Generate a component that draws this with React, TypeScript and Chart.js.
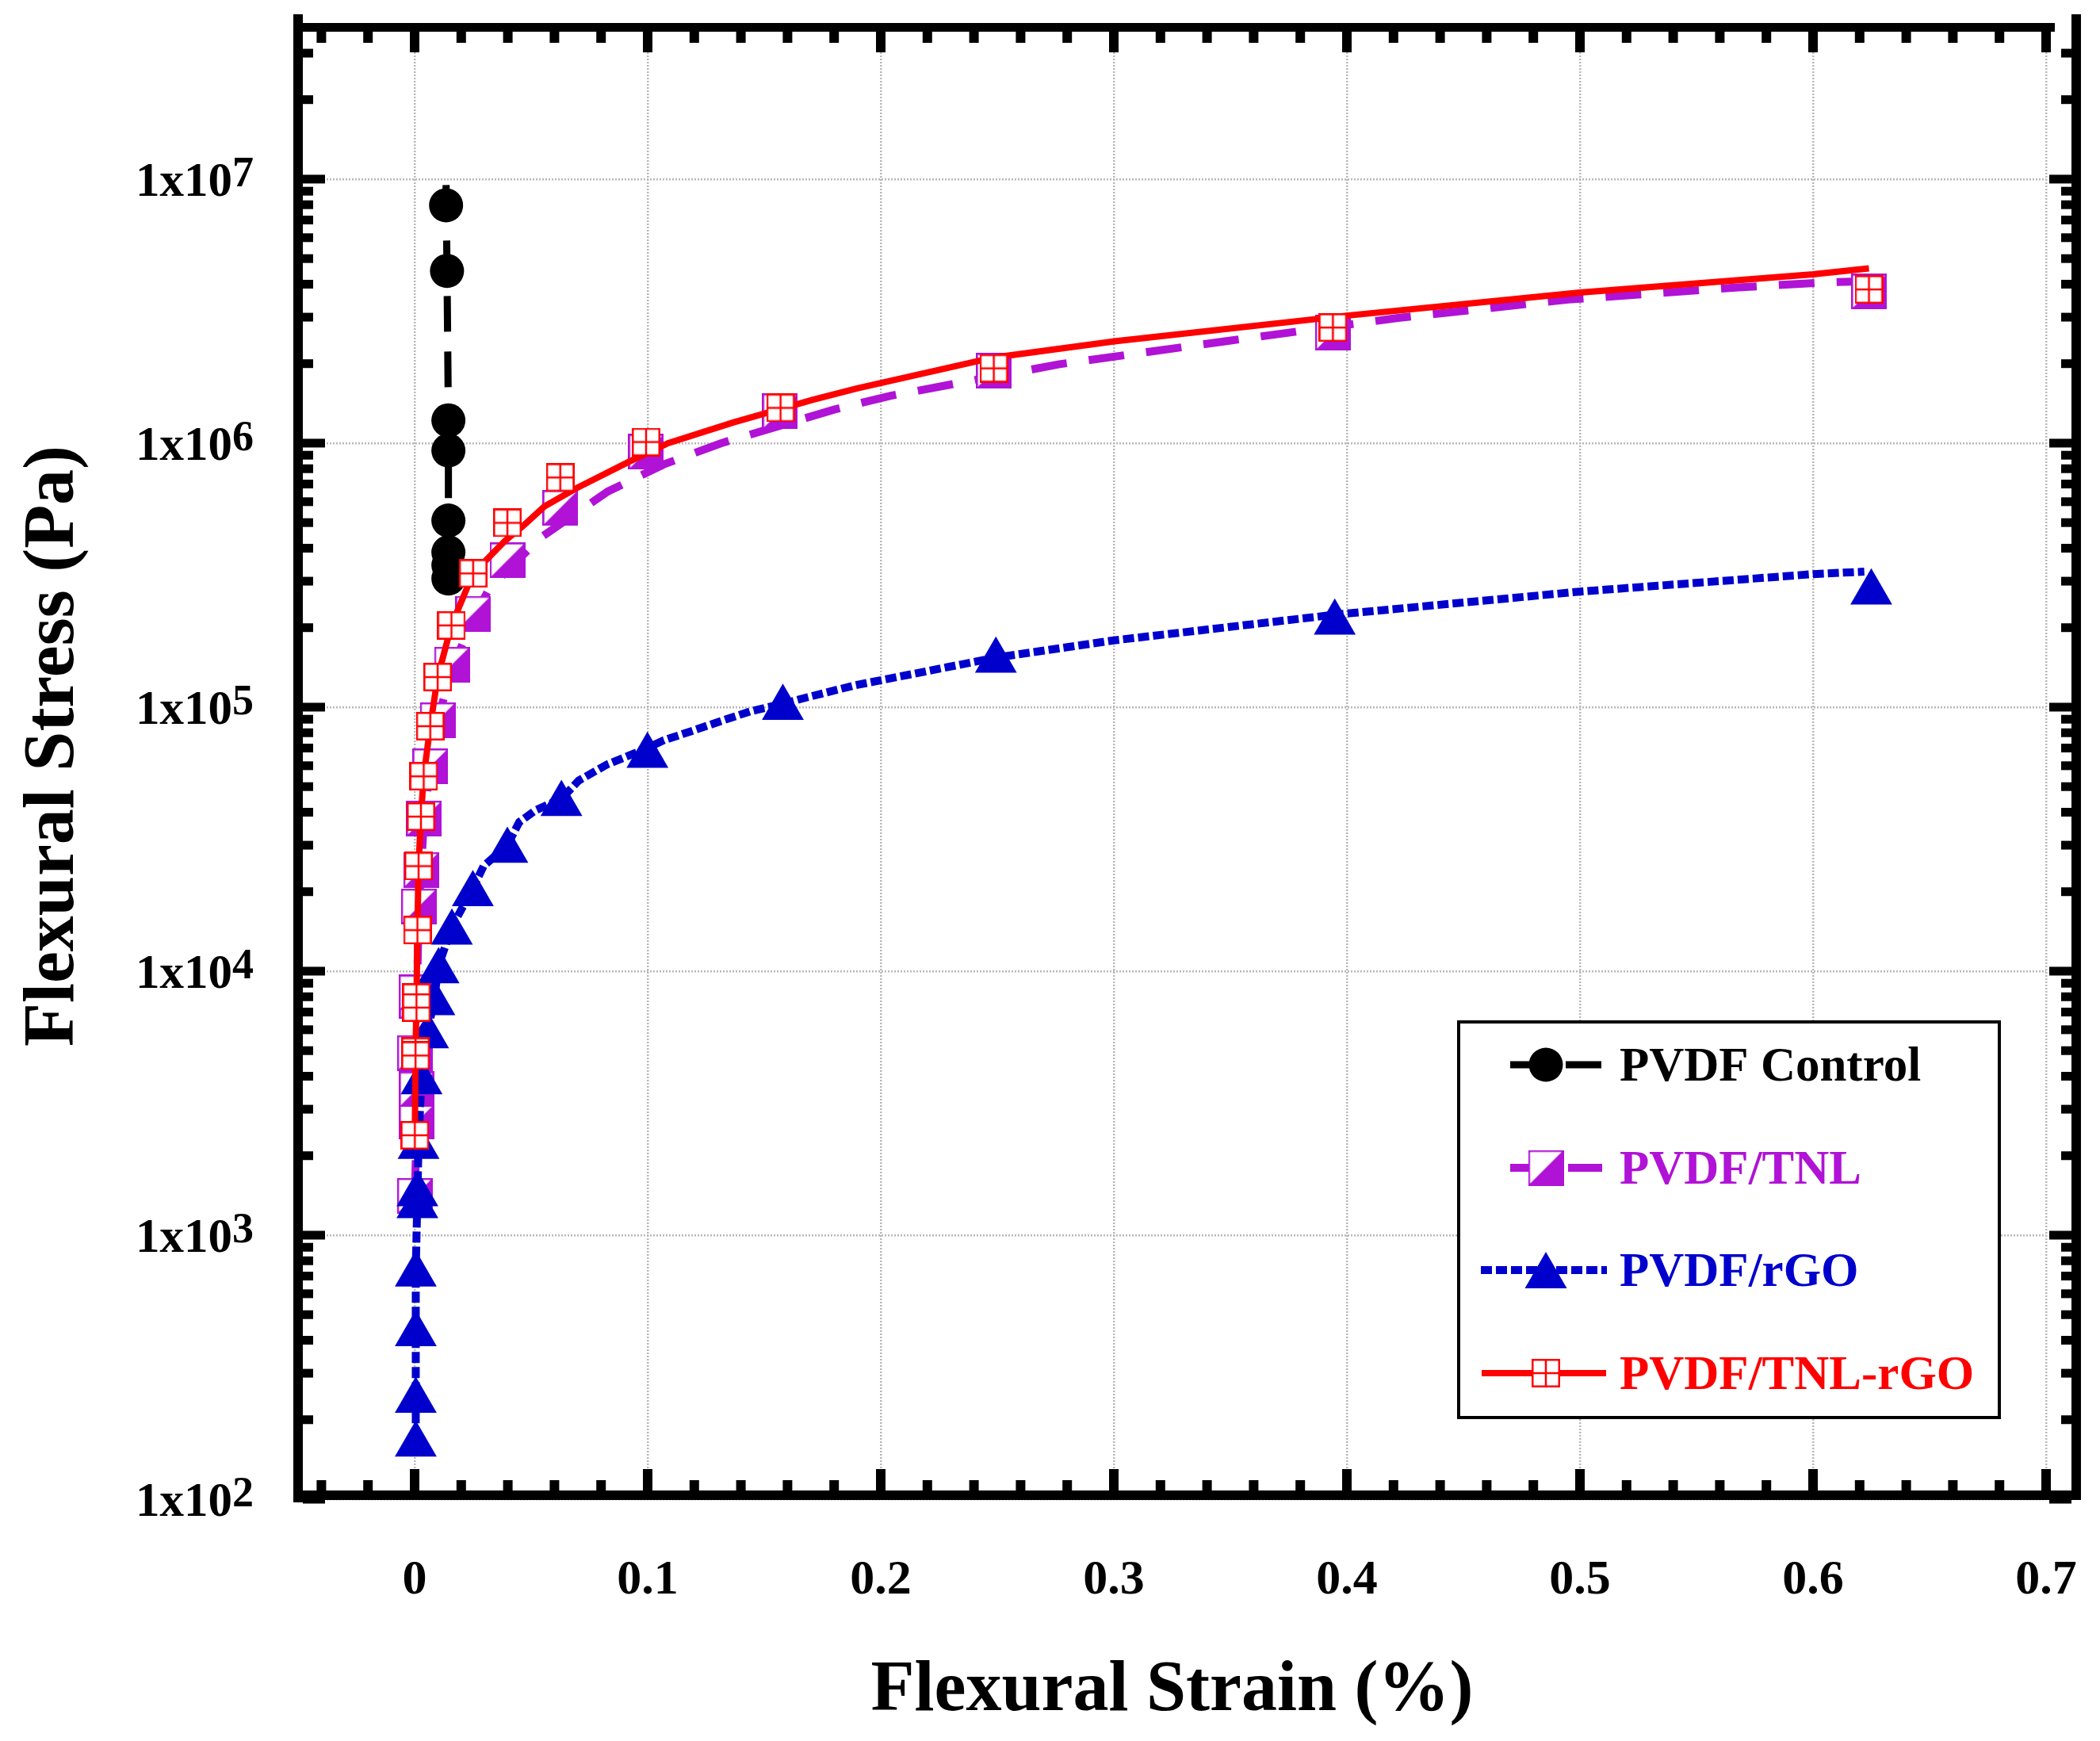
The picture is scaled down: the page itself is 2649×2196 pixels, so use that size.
import { useEffect, useRef } from "react";
import { Chart, registerables } from "chart.js";

Chart.register(...registerables);

const FONT = "'Liberation Serif', 'Times New Roman', Times, serif";

const BLACK = "#000000";
const PURPLE = "#B012D6";
const BLUE = "#0000CD";
const RED = "#FF0000";

// axes
const X_MIN = -0.05;
const X_MAX = 0.7;
const Y_MIN = 1e2;
const Y_MAX = 3.77e7;
const xMajor = [0, 0.1, 0.2, 0.3, 0.4, 0.5, 0.6, 0.7];
const xLabels = ["0", "0.1", "0.2", "0.3", "0.4", "0.5", "0.6", "0.7"];
const yMajor = [1e2, 1e3, 1e4, 1e5, 1e6, 1e7];
const yExponents = ["2", "3", "4", "5", "6", "7"];
const xTitle = "Flexural Strain (%)";
const yTitle = "Flexural Stress (Pa)";

const seriesNames = ["PVDF Control", "PVDF/TNL", "PVDF/rGO", "PVDF/TNL-rGO"];

// PVDF Control
const controlMarkX = [0.0135, 0.0139, 0.0145, 0.0145, 0.0145, 0.0145, 0.0145, 0.0145];
const controlMarkY = [7.96e6, 4.49e6, 1.22e6, 9.38e5, 5.09e5, 3.86e5, 3.45e5, 3.07e5];
const controlLineX = [0.0135, 0.0139, 0.0145, 0.0145];
const controlLineY = [9.5e6, 4.49e6, 1.22e6, 3.0e5];

// PVDF/TNL
const tnlMarkX = [0.0001, 0.0009, 0.0009, 0.0001, 0.001, 0.0008, 0.0018, 0.0028, 0.004, 0.0067, 0.0099, 0.016, 0.0251, 0.0398, 0.0625, 0.0993, 0.1568, 0.2485, 0.394, 0.624];
const tnlMarkY = [1.41e3, 2.69e3, 3.57e3, 4.9e3, 7.7e3, 8.3e3, 1.76e4, 2.42e4, 3.79e4, 5.97e4, 8.93e4, 1.45e5, 2.26e5, 3.6e5, 5.68e5, 9.27e5, 1.32e6, 1.88e6, 2.62e6, 3.75e6];
const tnlLineX = [0.0001, 0.0009, 0.0009, 0.0005, 0.001, 0.0018, 0.0028, 0.004, 0.0067, 0.0099, 0.016, 0.0251, 0.032, 0.054, 0.0829, 0.1068, 0.1316, 0.18, 0.204, 0.2767, 0.349, 0.422, 0.495, 0.568, 0.607, 0.62];
const tnlLineY = [1.41e3, 2.69e3, 3.57e3, 4.9e3, 8.0e3, 1.76e4, 2.42e4, 3.79e4, 5.97e4, 8.9e4, 1.4e5, 2.15e5, 2.81e5, 4.38e5, 6.56e5, 8.3e5, 1.0e6, 1.34e6, 1.51e6, 1.99e6, 2.44e6, 2.98e6, 3.5e6, 3.89e6, 4.07e6, 4.1e6];

// PVDF/rGO
const rgoMarkX = [0.0005, 0.0005, 0.0005, 0.0005, 0.0012, 0.0012, 0.0017, 0.003, 0.0058, 0.0085, 0.0103, 0.016, 0.025, 0.0398, 0.063, 0.0999, 0.158, 0.2494, 0.3948, 0.625];
const rgoMarkY = [161, 236, 422, 710, 1.29e3, 1.43e3, 2.16e3, 3.8e3, 5.67e3, 7.57e3, 1.0e4, 1.4e4, 1.96e4, 2.86e4, 4.3e4, 6.55e4, 9.94e4, 1.5e5, 2.09e5, 2.72e5];
const rgoLineX = [0.0005, 0.0005, 0.0012, 0.0017, 0.003, 0.0058, 0.0085, 0.0103, 0.016, 0.025, 0.0296, 0.0398, 0.0449, 0.0517, 0.063, 0.0704, 0.0823, 0.0999, 0.107, 0.118, 0.1305, 0.144, 0.158, 0.1685, 0.189, 0.2494, 0.3, 0.3948, 0.5, 0.6, 0.622];
const rgoLineY = [170, 745, 1.4e3, 2.28e3, 4.0e3, 5.97e3, 7.97e3, 1.05e4, 1.47e4, 2.06e4, 2.5e4, 3.0e4, 3.67e4, 4.06e4, 4.5e4, 5.27e4, 6.05e4, 7.0e4, 7.5e4, 8.07e4, 8.8e4, 9.64e4, 1.03e5, 1.09e5, 1.21e5, 1.54e5, 1.79e5, 2.24e5, 2.74e5, 3.19e5, 3.26e5];

// PVDF/TNL-rGO
const tnlRgoMarkX = [0.0001, 0.0004, 0.0004, 0.0008, 0.0008, 0.0012, 0.0017, 0.0027, 0.0039, 0.0067, 0.0099, 0.0158, 0.0251, 0.0398, 0.0625, 0.0993, 0.157, 0.2485, 0.394, 0.624];
const tnlRgoMarkY = [2.39e3, 4.96e3, 4.79e3, 7.94e3, 7.28e3, 1.43e4, 2.5e4, 3.85e4, 5.47e4, 8.47e4, 1.3e5, 2.04e5, 3.21e5, 4.99e5, 7.41e5, 1.01e6, 1.36e6, 1.92e6, 2.74e6, 3.82e6];
const tnlRgoLineX = [0.0001, 0.0004, 0.0008, 0.0012, 0.0017, 0.0027, 0.0039, 0.0067, 0.0099, 0.0158, 0.0251, 0.0387, 0.0466, 0.0557, 0.0693, 0.092, 0.1088, 0.137, 0.171, 0.1895, 0.2485, 0.3003, 0.4, 0.5, 0.6, 0.624];
const tnlRgoLineY = [2.39e3, 4.9e3, 7.6e3, 1.43e4, 2.5e4, 3.85e4, 5.47e4, 8.47e4, 1.3e5, 2.04e5, 3.21e5, 4.26e5, 4.86e5, 5.76e5, 6.74e5, 8.5e5, 1.0e6, 1.2e6, 1.46e6, 1.61e6, 2.11e6, 2.43e6, 3.04e6, 3.72e6, 4.36e6, 4.59e6];

function zip(xs: number[], ys: number[]) {
  return xs.map((x, i) => ({ x, y: ys[i] }));
}

function makeHalfSquare(size: number, color: string) {
  const c = document.createElement("canvas");
  c.width = size;
  c.height = size;
  const g = c.getContext("2d")!;
  g.fillStyle = "#ffffff";
  g.fillRect(0, 0, size, size);
  g.fillStyle = color;
  g.beginPath();
  g.moveTo(0, size);
  g.lineTo(size, 0);
  g.lineTo(size, size);
  g.closePath();
  g.fill();
  g.strokeStyle = color;
  g.lineWidth = 2.5;
  g.strokeRect(1.25, 1.25, size - 2.5, size - 2.5);
  return c;
}

function makeCrossSquare(size: number, color: string) {
  const c = document.createElement("canvas");
  c.width = size;
  c.height = size;
  const g = c.getContext("2d")!;
  g.fillStyle = "#ffffff";
  g.fillRect(0, 0, size, size);
  g.strokeStyle = color;
  g.lineWidth = 2.5;
  g.strokeRect(1.25, 1.25, size - 2.5, size - 2.5);
  g.beginPath();
  g.moveTo(size / 2, 1);
  g.lineTo(size / 2, size - 1);
  g.moveTo(1, size / 2);
  g.lineTo(size - 1, size / 2);
  g.stroke();
  return c;
}

export default function App() {
  const canvasRef = useRef<HTMLCanvasElement | null>(null);
  const chartRef = useRef<Chart | null>(null);

  useEffect(() => {
    const canvas = canvasRef.current;
    if (!canvas) return;

    const halfSquare = makeHalfSquare(45, PURPLE);
    const crossSquare = makeCrossSquare(36, RED);

    const styles = [
      { color: BLACK, dash: [45, 25], width: 9, x0: 1905, x1: 2021 },
      { color: PURPLE, dash: [45, 28], width: 10, x0: 1905, x1: 2021 },
      { color: BLUE, dash: [14, 5], width: 10, x0: 1868, x1: 2027 },
      { color: RED, dash: [] as number[], width: 8, x0: 1869, x1: 2026 },
    ];

    // Origin-like frame: thick axes on four sides, inward ticks, superscript labels, boxed legend
    const framePlugin = {
      id: "originFrame",
      afterDraw(chart: Chart) {
        const { ctx, chartArea: ca } = chart;
        const xs = chart.scales.x;
        const ys = chart.scales.y;
        const rightX = ca.right + 38;
        ctx.save();
        ctx.fillStyle = BLACK;
        ctx.fillRect(ca.left - 6, ca.top - 16, 12, ca.bottom - ca.top + 20);
        ctx.fillRect(rightX - 6, ca.top - 16, 12, ca.bottom - ca.top + 17);
        ctx.fillRect(ca.left - 6, ca.bottom - 11, rightX + 6 - (ca.left - 6), 12);
        ctx.fillRect(ca.left - 6, ca.top - 5, ca.right + 11 - (ca.left - 6), 11);

        // x ticks every 0.02, major every 0.1
        for (let k = -2; k <= 35; k++) {
          const px = xs.getPixelForValue(k * 0.02);
          const major = k % 5 === 0;
          const lenB = major ? 27 : 13;
          const lenT = major ? 26 : 14;
          ctx.fillRect(px - 6, ca.bottom - 11 - lenB, 12, lenB);
          ctx.fillRect(px - 6, ca.top + 6, 12, lenT);
        }
        // y ticks at 1..9 x 10^n
        for (let e = 2; e <= 7; e++) {
          for (let m = 1; m <= 9; m++) {
            const v = m * Math.pow(10, e);
            if (v > Y_MAX) break;
            const py = ys.getPixelForValue(v);
            const len = m === 1 ? 28 : 13;
            ctx.fillRect(ca.left + 6, py - 5.5, len, 11);
            ctx.fillRect(rightX - 6 - len, py - 5.5, len, 11);
          }
        }

        // y tick labels 1x10^n
        ctx.fillStyle = BLACK;
        ctx.textBaseline = "alphabetic";
        ctx.textAlign = "right";
        const mainFont = `bold 61px ${FONT}`;
        const supFont = `bold 54px ${FONT}`;
        const right = ca.left - 56;
        yMajor.forEach((v, i) => {
          const py = ys.getPixelForValue(v);
          ctx.font = supFont;
          const supW = ctx.measureText(yExponents[i]).width;
          ctx.fillText(yExponents[i], right, py + 9);
          ctx.font = mainFont;
          ctx.fillText("1x10", right - supW, py + 21);
        });

        // rotated y title
        ctx.save();
        ctx.translate(69, 941);
        ctx.rotate(-Math.PI / 2);
        ctx.textAlign = "center";
        ctx.textBaseline = "middle";
        ctx.font = `bold 90px ${FONT}`;
        ctx.fillStyle = BLACK;
        ctx.fillText(yTitle, 0, 0);
        ctx.restore();

        // legend
        const bx = 1840, by = 1289, bw = 682, bh = 499;
        ctx.fillStyle = "#ffffff";
        ctx.fillRect(bx, by, bw, bh);
        ctx.strokeStyle = BLACK;
        ctx.lineWidth = 4;
        ctx.setLineDash([]);
        ctx.strokeRect(bx, by, bw, bh);
        const rowY = [1343, 1473, 1602, 1732];
        const mx = 1950;
        ctx.textAlign = "left";
        styles.forEach((s, i) => {
          const y = rowY[i];
          ctx.strokeStyle = s.color;
          ctx.lineWidth = s.width;
          ctx.lineCap = "butt";
          ctx.setLineDash(s.dash);
          ctx.beginPath();
          ctx.moveTo(s.x0, y);
          ctx.lineTo(s.x1, y);
          ctx.stroke();
          ctx.setLineDash([]);
          ctx.fillStyle = s.color;
          if (i === 0) {
            ctx.beginPath();
            ctx.arc(mx, y, 21.5, 0, Math.PI * 2);
            ctx.fill();
          } else if (i === 1) {
            ctx.drawImage(halfSquare, mx - 22.5, y - 22.5);
          } else if (i === 2) {
            ctx.beginPath();
            ctx.moveTo(mx, y - 23);
            ctx.lineTo(mx + 26.5, y + 23);
            ctx.lineTo(mx - 26.5, y + 23);
            ctx.closePath();
            ctx.fill();
          } else {
            ctx.drawImage(crossSquare, mx - 18, y - 18);
          }
          ctx.font = `bold 61px ${FONT}`;
          ctx.textBaseline = "middle";
          ctx.fillStyle = s.color;
          ctx.fillText(seriesNames[i], 2043, y + 4);
        });
        ctx.restore();
      },
    };

    const gridCommon = {
      color: "#b8b8b8",
      lineWidth: 2.5,
      drawTicks: false,
    };

    if (chartRef.current) chartRef.current.destroy();

    chartRef.current = new Chart(canvas, {
      type: "scatter",
      data: {
        datasets: [
          {
            label: seriesNames[3],
            data: zip(tnlRgoMarkX, tnlRgoMarkY),
            showLine: false,
            pointStyle: crossSquare,
            pointRadius: 18,
            order: 0,
          },
          {
            label: seriesNames[3] + " line",
            data: zip(tnlRgoLineX, tnlRgoLineY),
            showLine: true,
            borderColor: RED,
            borderWidth: 8,
            pointRadius: 0,
            order: 1,
          },
          {
            label: seriesNames[2],
            data: zip(rgoMarkX, rgoMarkY),
            showLine: false,
            pointStyle: "triangle",
            pointRadius: 30.5,
            backgroundColor: BLUE,
            borderColor: BLUE,
            borderWidth: 0,
            order: 2,
          },
          {
            label: seriesNames[2] + " line",
            data: zip(rgoLineX, rgoLineY),
            showLine: true,
            borderColor: BLUE,
            borderWidth: 10,
            borderDash: [14, 5],
            pointRadius: 0,
            order: 3,
          },
          {
            label: seriesNames[1],
            data: zip(tnlMarkX, tnlMarkY),
            showLine: false,
            pointStyle: halfSquare,
            pointRadius: 22,
            order: 4,
          },
          {
            label: seriesNames[1] + " line",
            data: zip(tnlLineX, tnlLineY),
            showLine: true,
            borderColor: PURPLE,
            borderWidth: 10,
            borderDash: [45, 28],
            pointRadius: 0,
            order: 5,
          },
          {
            label: seriesNames[0],
            data: zip(controlMarkX, controlMarkY),
            showLine: false,
            pointStyle: "circle",
            pointRadius: 21.5,
            backgroundColor: BLACK,
            borderColor: BLACK,
            borderWidth: 0,
            order: 6,
          },
          {
            label: seriesNames[0] + " line",
            data: zip(controlLineX, controlLineY),
            showLine: true,
            borderColor: BLACK,
            borderWidth: 9,
            borderDash: [45, 25],
            pointRadius: 0,
            order: 7,
          },
        ],
      },
      options: {
        animation: false,
        responsive: true,
        maintainAspectRatio: false,
        devicePixelRatio: 1,
        events: [],
        layout: { padding: { left: 0, top: 34, right: 68, bottom: 0 } },
        plugins: {
          legend: { display: false },
          tooltip: { enabled: false },
        },
        scales: {
          x: {
            type: "linear",
            min: X_MIN,
            max: X_MAX,
            afterBuildTicks: (scale: any) => {
              scale.ticks = xMajor.map((value) => ({ value }));
            },
            afterFit: (scale: any) => {
              scale.height = 305;
              scale.paddingLeft = 0;
              scale.paddingRight = 0;
            },
            ticks: {
              autoSkip: false,
              maxRotation: 0,
              padding: 66,
              color: BLACK,
              font: { family: FONT, size: 62, weight: "bold" },
              callback: (_v: any, i: number) => xLabels[i] ?? "",
            },
            grid: gridCommon,
            border: { display: false, dash: [2, 2] },
            title: {
              display: true,
              text: xTitle,
              color: BLACK,
              font: { family: FONT, size: 90, weight: "bold" },
              padding: { top: 0, bottom: 8 },
            },
          },
          y: {
            type: "logarithmic",
            min: Y_MIN,
            max: Y_MAX,
            afterBuildTicks: (scale: any) => {
              scale.ticks = yMajor.map((value) => ({ value }));
            },
            afterFit: (scale: any) => {
              scale.width = 376;
              scale.paddingTop = 0;
              scale.paddingBottom = 0;
            },
            ticks: { display: false },
            grid: gridCommon,
            border: { display: false, dash: [2, 2] },
            title: { display: false },
          },
        },
      },
      plugins: [framePlugin],
    });

    return () => {
      if (chartRef.current) {
        chartRef.current.destroy();
        chartRef.current = null;
      }
    };
  }, []);

  return (
    <div style={{ position: "absolute", left: 0, top: 0, width: 2649, height: 2196, background: "#ffffff" }}>
      <canvas ref={canvasRef} />
    </div>
  );
}
